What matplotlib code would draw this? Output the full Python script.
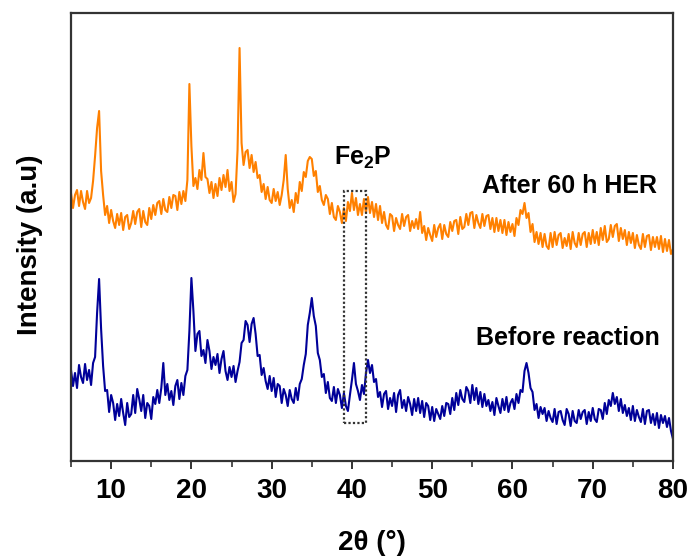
import numpy as np
import matplotlib
matplotlib.use("Agg")
import matplotlib.pyplot as plt
from matplotlib.patches import Rectangle
from matplotlib.ticker import MultipleLocator

plt.rcParams['font.family'] = ['Liberation Sans', 'DejaVu Sans']
plt.rcParams['mathtext.fontset'] = 'custom'
plt.rcParams['mathtext.rm'] = 'Liberation Sans'
plt.rcParams['mathtext.bf'] = 'Liberation Sans:bold'

# 2theta grid (degrees), step 0.25, from 5 to 80
two_theta = np.arange(0, 301) * 0.25 + 5.0

# Before reaction (arbitrary intensity units)
before = [
    91, 75, 88, 73,   96, 84, 78, 97,   81, 91, 76, 98,   104, 148, 182, 132,   # 5-8
    95, 70, 71, 49,   66, 58, 41, 57,   45, 62, 48, 36,   58, 44, 47, 66,      # 9-12
    48, 72, 62, 50,   66, 43, 58, 55,   42, 64, 57, 71,   58, 73, 98, 66,      # 13-16
    77, 61, 70, 56,   75, 81, 62, 78,   66, 85, 91, 130,  183, 150, 110, 127,  # 17-20
    130, 105, 111, 98, 121, 110, 92, 104, 96, 107, 88, 102, 110, 90, 81, 94,  # 21-24
    84, 95, 79, 90,   99, 118, 121, 140, 136, 119, 137, 143, 127, 105, 106, 86,  # 25-28
    93, 80, 72, 85,   70, 83, 64, 77,   75, 58, 72, 66,   55, 71, 62, 58,      # 29-32
    73, 61, 77, 82,   96, 107, 136, 148, 163, 145, 135, 108, 101, 84, 87, 68,  # 33-36
    79, 63, 60, 74,   58, 72, 66, 53,   68, 55, 50, 66,   81, 98, 77, 70,      # 37-40
    61, 76, 67, 88,   101, 88, 96, 79,  82, 64, 69, 54,   67, 70, 52, 63,      # 41-44
    55, 68, 49, 66,   71, 53, 61, 50,   64, 57, 46, 62,   50, 63, 48, 60,      # 45-48
    44, 58, 55, 41,   54, 40, 52, 47,   42, 55, 45, 58,   57, 47, 63, 51,      # 49-52
    68, 56, 71, 62,   59, 74, 70, 58,   76, 61, 73, 57,   69, 54, 67, 55,      # 53-56
    61, 50, 59, 46,   63, 55, 48, 62,   51, 64, 49, 58,   62, 52, 67, 58,      # 57-60
    71, 69, 90, 98,   88, 73, 69, 51,   57, 43, 54, 47,   53, 40, 50, 43,      # 61-64
    39, 52, 37, 49,   50, 41, 36, 52,   47, 35, 50, 40,   38, 51, 42, 49,      # 65-68
    51, 37, 49, 40,   53, 42, 39, 52,   51, 42, 58, 47,   61, 55, 68, 57,      # 69-72
    64, 50, 62, 48,   56, 45, 53, 41,   55, 40, 51, 44,   39, 52, 37, 50,      # 73-76
    51, 38, 47, 36,   48, 33, 46, 38,   45, 34, 43, 30,   22,                  # 77-80
]

# After 60 h HER (arbitrary intensity units, stacked above)
after = [
    268, 253, 266, 271,  255, 270, 259, 252,  270, 258, 263, 280,  305, 333, 350, 290,  # 5-8
    266, 246, 255, 238,  251, 240, 233, 247,  236, 248, 231, 244,  246, 232, 238, 250,  # 9-12
    237, 249, 252, 234,  250, 239, 236, 253,  242, 256, 246, 258,  260, 247, 262, 251,  # 13-16
    249, 264, 253, 266,  265, 251, 269, 257,  270, 260, 281, 377,  315, 275, 283, 272,  # 17-20
    291, 281, 308, 284,  282, 268, 279, 263,  277, 265, 283, 271,  286, 274, 291, 270,  # 21-24
    279, 259, 267, 311,  413, 318, 296, 309,  311, 293, 306, 289,  299, 283, 286, 269,  # 25-28
    277, 262, 274, 261,  258, 272, 260, 269,  256, 266, 281, 306,  272, 253, 261, 249,  # 29-32
    268, 258, 279, 270,  289, 284, 300, 304,  302, 285, 290, 269,  275, 261, 256, 266,  # 33-36
    262, 247, 258, 244,  241, 255, 249, 238,  253, 240, 259, 250,  268, 251, 263, 246,  # 37-40
    257, 246, 262, 248,  264, 248, 259, 244,  257, 241, 255, 238,  249, 236, 232, 247,  # 41-44
    245, 230, 243, 236,  232, 247, 235, 244,  246, 230, 240, 233,  242, 232, 249, 228,  # 45-48
    235, 221, 233, 226,  220, 236, 224, 233,  237, 222, 236, 227,  224, 239, 230, 240,  # 49-52
    241, 227, 244, 232,  234, 247, 236, 248,  249, 233, 246, 238,  233, 247, 235, 245,  # 53-56
    246, 232, 243, 229,  243, 230, 241, 228,  241, 226, 239, 229,  237, 225, 243, 236,  # 57-60
    251, 247, 258, 243,  248, 229, 237, 219,  229, 217, 228, 214,  227, 215, 212, 228,  # 61-64
    214, 229, 216, 226,  228, 213, 223, 215,  227, 212, 229, 218,  214, 228, 216, 227,  # 65-68
    229, 214, 228, 217,  231, 218, 229, 216,  233, 221, 235, 219,  222, 236, 224, 235,  # 69-72
    237, 220, 233, 222,  231, 216, 229, 218,  228, 213, 226, 216,  212, 227, 214, 225,  # 73-76
    226, 211, 224, 214,  224, 212, 225, 209,  222, 210, 221, 207,  212,                 # 77-80
]

x_ticks = [10, 20, 30, 40, 50, 60, 70, 80]
label_after = "After 60 h HER"
label_before = "Before reaction"
phase_label = "Fe$_\\mathbf{2}$P"
fe2p_range = (39.0, 41.7)
fe2p_box_y = (38, 270)

fig = plt.figure(figsize=(6.91, 5.57), dpi=100)
ax = fig.add_axes([71/691, 1-461/557, (673-71)/691, (461-13)/557])

ax.plot(two_theta, before, color='#000099', lw=1.5)
ax.plot(two_theta, after, color='#ff8000', lw=1.5)

ax.add_patch(Rectangle((fe2p_range[0], fe2p_box_y[0]), fe2p_range[1]-fe2p_range[0],
                       fe2p_box_y[1]-fe2p_box_y[0], fill=False, ls=(0, (1, 1)),
                       lw=1.6, ec='#333333', zorder=5))

ax.set_xlim(5, 80)
ax.set_ylim(0, 448)
ax.set_xticks(x_ticks)
ax.xaxis.set_minor_locator(MultipleLocator(5))
ax.set_yticks([])
for s in ax.spines.values():
    s.set_linewidth(1.6)
    s.set_color('#333333')
ax.tick_params(axis='x', which='major', length=6, width=1.4, color='#333333',
               direction='out', pad=6, labelsize=20)
ax.tick_params(axis='x', which='minor', length=4, width=1.2, color='#333333',
               direction='out')
for lab in ax.get_xticklabels():
    lab.set_fontweight('bold')

fig.text(657/691, 1-186/557, label_after, fontsize=18, fontweight='bold',
         ha='right', va='center')
fig.text(660/691, 1-338/557, label_before, fontsize=18, fontweight='bold',
         ha='right', va='center')
fig.text(363/691, 1-158/557, phase_label, fontsize=18, fontweight='bold',
         ha='center', va='center')
fig.text(372/691, 1-543/557, "2θ (°)", fontsize=20, fontweight='bold',
         ha='center', va='center')
fig.text(30/691, 1-245/557, "Intensity (a.u)", fontsize=20, fontweight='bold',
         ha='center', va='center', rotation=90)

fig.savefig('out.png', dpi=100)
